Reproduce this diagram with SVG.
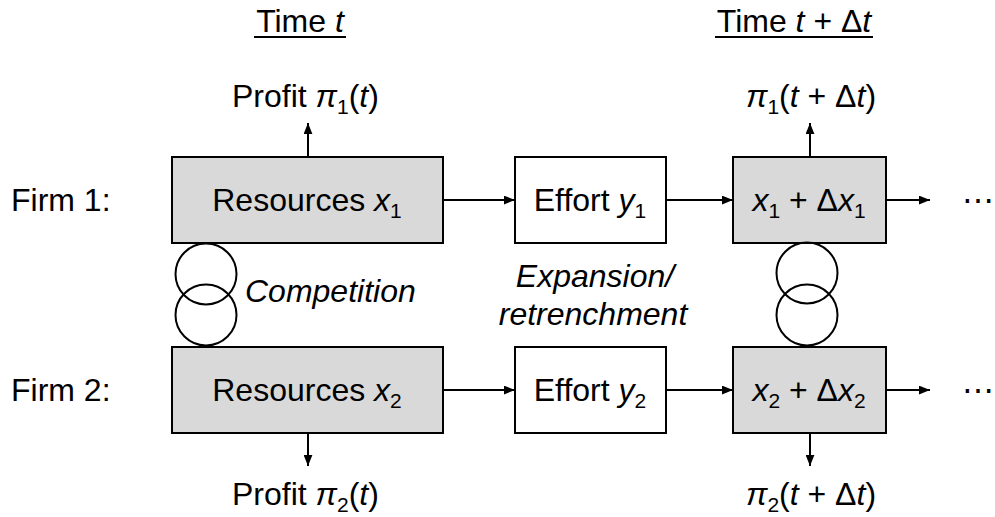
<svg xmlns="http://www.w3.org/2000/svg" width="995" height="517" viewBox="0 0 995 517">
<style>
text{font-family:"Liberation Sans",Arial,sans-serif;font-size:32px;fill:#000}
.i{font-style:italic}
.s{font-size:21px;font-style:normal}
.box{fill:#d9d9d9;stroke:#000;stroke-width:2}
.wbox{fill:#fff;stroke:#000;stroke-width:2}
.ln{stroke:#000;stroke-width:2;fill:none}
.c{fill:none;stroke:#000;stroke-width:2}
</style>
<defs>
<marker id="ah" viewBox="0 0 10 8" refX="10" refY="4" markerWidth="11" markerHeight="9" markerUnits="userSpaceOnUse" orient="auto">
<path d="M0,0L10,4L0,8z" fill="#000"/>
</marker>
</defs>
<g id="headers">
<text x="300" y="32" text-anchor="middle">Time <tspan class="i">t</tspan></text>
<line x1="254" y1="37" x2="346" y2="37" class="ln" stroke-width="1.5"/>
<text x="794" y="32" text-anchor="middle">Time <tspan class="i">t</tspan> + Δ<tspan class="i">t</tspan></text>
<line x1="715" y1="37" x2="873" y2="37" class="ln" stroke-width="1.5"/>
</g>
<g id="connectors">
<line x1="443" y1="200" x2="515" y2="200" class="ln" marker-end="url(#ah)"/>
<line x1="666" y1="200" x2="733" y2="200" class="ln" marker-end="url(#ah)"/>
<line x1="886" y1="200" x2="930" y2="200" class="ln" marker-end="url(#ah)"/>
<line x1="443" y1="390" x2="515" y2="390" class="ln" marker-end="url(#ah)"/>
<line x1="666" y1="390" x2="733" y2="390" class="ln" marker-end="url(#ah)"/>
<line x1="886" y1="390" x2="930" y2="390" class="ln" marker-end="url(#ah)"/>
<line x1="308" y1="157" x2="308" y2="123" class="ln" marker-end="url(#ah)"/>
<line x1="810" y1="157" x2="810" y2="123" class="ln" marker-end="url(#ah)"/>
<line x1="308" y1="433" x2="308" y2="466" class="ln" marker-end="url(#ah)"/>
<line x1="810" y1="433" x2="810" y2="466" class="ln" marker-end="url(#ah)"/>
</g>
<g id="labels">
<text x="11" y="211">Firm 1:</text>
<text x="11" y="401">Firm 2:</text>
<text x="232" y="107">Profit <tspan class="i">π</tspan><tspan class="s" dy="7">1</tspan><tspan dy="-7">(</tspan><tspan class="i">t</tspan>)</text>
<text x="811" y="107" text-anchor="middle"><tspan class="i">π</tspan><tspan class="s" dy="7">1</tspan><tspan dy="-7">(</tspan><tspan class="i">t</tspan> + Δ<tspan class="i">t</tspan>)</text>
<text x="232" y="505">Profit <tspan class="i">π</tspan><tspan class="s" dy="7">2</tspan><tspan dy="-7">(</tspan><tspan class="i">t</tspan>)</text>
<text x="811" y="505" text-anchor="middle"><tspan class="i">π</tspan><tspan class="s" dy="7">2</tspan><tspan dy="-7">(</tspan><tspan class="i">t</tspan> + Δ<tspan class="i">t</tspan>)</text>
<text x="245" y="302" class="i">Competition</text>
<text x="595" y="287" class="i" text-anchor="middle">Expansion/</text>
<text x="593" y="325" class="i" text-anchor="middle">retrenchment</text>
<text x="962" y="211">⋯</text>
<text x="962" y="401">⋯</text>
</g>
<g id="res1">
<rect x="172" y="157" width="271" height="86" class="box"/>
<text x="307" y="211" text-anchor="middle">Resources <tspan class="i">x</tspan><tspan class="s" dy="7">1</tspan></text>
</g>
<g id="eff1">
<rect x="515" y="157" width="151" height="86" class="wbox"/>
<text x="590" y="211" text-anchor="middle">Effort <tspan class="i">y</tspan><tspan class="s" dy="7">1</tspan></text>
</g>
<g id="next1">
<rect x="733" y="157" width="153" height="86" class="box"/>
<text x="809" y="211" text-anchor="middle"><tspan class="i">x</tspan><tspan class="s" dy="7">1</tspan><tspan dy="-7"> + Δ</tspan><tspan class="i">x</tspan><tspan class="s" dy="7">1</tspan></text>
</g>
<g id="res2">
<rect x="172" y="347" width="271" height="86" class="box"/>
<text x="307" y="401" text-anchor="middle">Resources <tspan class="i">x</tspan><tspan class="s" dy="7">2</tspan></text>
</g>
<g id="eff2">
<rect x="515" y="347" width="151" height="86" class="wbox"/>
<text x="590" y="401" text-anchor="middle">Effort <tspan class="i">y</tspan><tspan class="s" dy="7">2</tspan></text>
</g>
<g id="next2">
<rect x="733" y="347" width="153" height="86" class="box"/>
<text x="809" y="401" text-anchor="middle"><tspan class="i">x</tspan><tspan class="s" dy="7">2</tspan><tspan dy="-7"> + Δ</tspan><tspan class="i">x</tspan><tspan class="s" dy="7">2</tspan></text>
</g>
<g id="comp-left">
<circle cx="206" cy="274" r="30.5" class="c"/>
<circle cx="206" cy="315" r="30.5" class="c"/>
</g>
<g id="comp-right">
<circle cx="807" cy="273" r="30.5" class="c"/>
<circle cx="807" cy="315" r="30.5" class="c"/>
</g>
</svg>
